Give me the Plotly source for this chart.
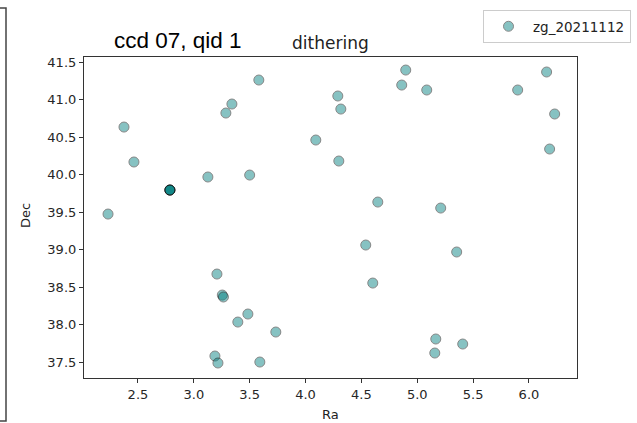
import plotly.graph_objects as go

# Data
ra = [2.232, 2.375, 2.464, 2.786, 2.786, 2.786, 2.786, 3.126, 3.500, 3.207,
      3.255, 3.265, 3.394, 3.484, 3.734, 3.189, 3.216, 3.591, 3.287, 3.341,
      3.582, 4.092, 4.289, 4.316, 4.298, 4.647, 4.539, 4.602, 5.210, 5.353,
      5.166, 5.157, 5.407, 4.861, 4.897, 5.085, 5.899, 6.158, 6.230, 6.185]
dec = [39.473, 40.633, 40.167, 39.793, 39.793, 39.793, 39.793, 39.967, 39.993, 38.673,
       38.393, 38.367, 38.033, 38.140, 37.900, 37.580, 37.487, 37.500, 40.820, 40.940,
       41.260, 40.460, 41.047, 40.873, 40.180, 39.633, 39.060, 38.553, 39.553, 38.967,
       37.807, 37.620, 37.740, 41.193, 41.393, 41.127, 41.127, 41.367, 40.807, 40.340]
series_name = "zg_20211112"
x_ticks = [2.5, 3.0, 3.5, 4.0, 4.5, 5.0, 5.5, 6.0]
y_ticks = [37.5, 38.0, 38.5, 39.0, 39.5, 40.0, 40.5, 41.0, 41.5]

W, H = 637, 423
L, R, T, B = 84, 577, 57, 378
pw, ph = R - L, B - T

def px(x):
    return (x - L) / pw

def py(y):
    return (B - y) / ph

fig = go.Figure()
fig.add_trace(go.Scatter(
    x=ra, y=dec, mode="markers", name=series_name,
    marker=dict(size=10, color="teal", opacity=0.47,
                line=dict(color="black", width=1)),
))

axis_common = dict(
    showgrid=False, zeroline=False, showline=True, mirror=True,
    linecolor="#333333", linewidth=1.2, ticks="outside", ticklen=4,
    tickcolor="#333333", tickwidth=1,
    tickfont=dict(family="DejaVu Sans", size=13, color="#262626"),
)
fig.update_xaxes(range=[2.017, 6.43], tickvals=x_ticks,
                 ticktext=[f"{v:.1f}" for v in x_ticks], **axis_common)
fig.update_yaxes(range=[37.287, 41.567], tickvals=y_ticks,
                 ticktext=[f"{v:.1f}" for v in y_ticks], **axis_common)

annotations = [
    dict(text="ccd 07, qid 1", x=px(112), y=py(40), xanchor="left", yanchor="middle",
         font=dict(family="Liberation Sans", size=22.5, color="black")),
    dict(text="dithering", x=px(330), y=py(43), xanchor="center", yanchor="middle",
         font=dict(family="DejaVu Sans", size=17, color="#222222")),
    dict(text="Ra", x=px(330), y=py(414), xanchor="center", yanchor="middle",
         font=dict(family="DejaVu Sans", size=13, color="#222222")),
    dict(text="Dec", x=px(25), y=py(216), xanchor="center", yanchor="middle",
         textangle=-90, font=dict(family="DejaVu Sans", size=13, color="#222222")),
]
for a in annotations:
    a.update(xref="paper", yref="paper", showarrow=False)

shapes = [
    dict(type="path", xref="paper", yref="paper",
         path=f"M {px(0)},{py(8)} L {px(6)},{py(8)} L {px(6)},{py(421)} L {px(0)},{py(421)}",
         line=dict(color="#444444", width=1.5)),
]

fig.update_layout(
    width=W, height=H,
    margin=dict(l=L, r=W - R, t=T, b=H - B, autoexpand=False),
    paper_bgcolor="white", plot_bgcolor="white",
    showlegend=True,
    legend=dict(x=px(483), y=py(10), xanchor="left", yanchor="top",
                bordercolor="#cccccc", borderwidth=1, bgcolor="white",
                font=dict(family="DejaVu Sans", size=13.5, color="#222222"),
                itemwidth=39),
    annotations=annotations, shapes=shapes,
)

fig.write_html("out.html")
